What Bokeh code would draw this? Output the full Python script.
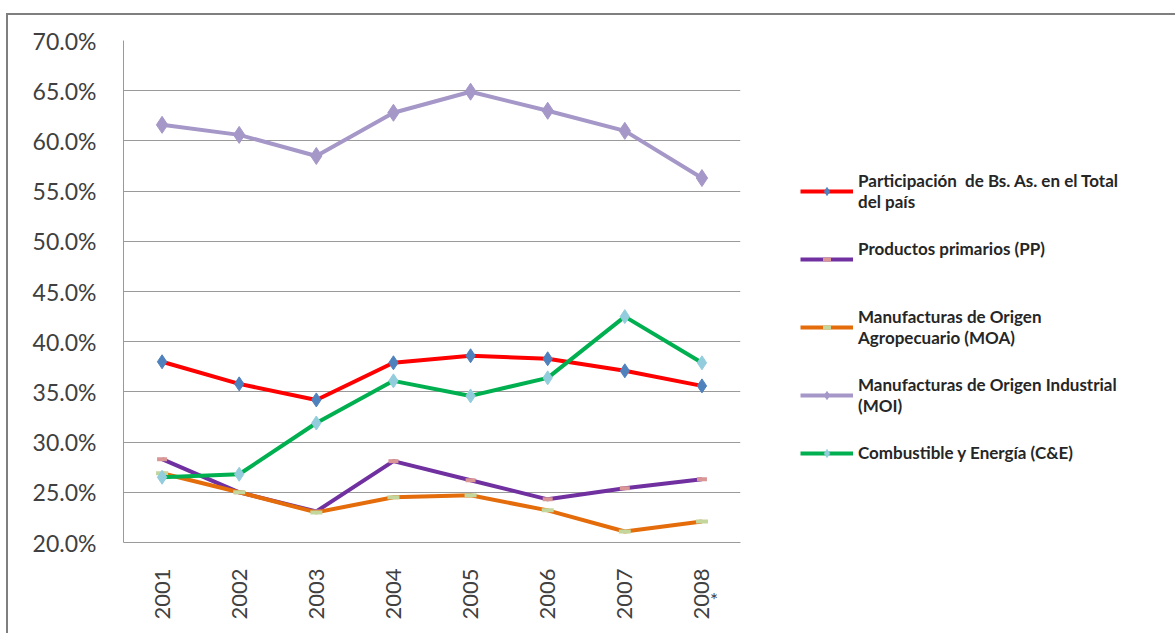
from bokeh.plotting import figure
from bokeh.models import (FactorRange, Range1d, FixedTicker, PrintfTickFormatter,
                          Legend, LegendItem, CategoricalAxis, CustomJSTickFormatter)
from bokeh.embed import file_html
from bokeh.resources import INLINE
from math import pi

years = ["2001", "2002", "2003", "2004", "2005", "2006", "2007", "2008"]
participacion = [38.0, 35.8, 34.2, 37.9, 38.6, 38.3, 37.1, 35.6]
pp = [28.3, 25.0, 23.1, 28.1, 26.2, 24.3, 25.4, 26.3]
moa = [26.9, 25.0, 23.0, 24.5, 24.7, 23.2, 21.1, 22.1]
moi = [61.6, 60.6, 58.5, 62.8, 64.9, 63.0, 61.0, 56.3]
ce = [26.5, 26.8, 31.9, 36.1, 34.6, 36.4, 42.5, 37.9]
y_ticks = [20, 25, 30, 35, 40, 45, 50, 55, 60, 65, 70]
note_year = "2008"
note_text = "*"

labels = ["Participación  de Bs. As. en el Total\ndel país",
          "Productos primarios (PP)\n\u00a0",
          "Manufacturas de Origen\nAgropecuario (MOA)",
          "Manufacturas de Origen Industrial\n(MOI)",
          "Combustible y Energía (C&E)"]

p = figure(x_range=FactorRange(*years), y_range=Range1d(20, 70),
           frame_width=617, frame_height=502,
           output_backend="svg", toolbar_location=None,
           min_border_left=115, min_border_top=25, min_border_right=0,
           min_border_bottom=91)
p.styles = {"border-top": "2px solid #7f7f7f", "border-left": "2px solid #7f7f7f",
            "margin-top": "13px", "margin-left": "6px"}
p.outline_line_color = None
p.background_fill_color = "white"
p.border_fill_color = "white"

FONT = "Lato"
TXT = "#404040"

# axes
p.yaxis.ticker = FixedTicker(ticks=y_ticks)
p.yaxis.formatter = PrintfTickFormatter(format="%.1f%%")
p.yaxis.major_tick_line_color = None
p.yaxis.minor_tick_line_color = None
p.yaxis.axis_line_color = "#9a9a9a"
p.yaxis.major_label_text_font = FONT
p.yaxis.major_label_text_font_size = "23px"
p.yaxis.major_label_text_color = TXT
p.yaxis.major_label_standoff = 21

p.xaxis.major_tick_line_color = None
p.xaxis.minor_tick_line_color = None
p.xaxis.axis_line_color = "#9a9a9a"
p.xaxis.major_label_orientation = pi / 2
p.xaxis.major_label_text_font = FONT
p.xaxis.major_label_text_font_size = "22px"
p.xaxis.major_label_text_color = TXT
p.xaxis.major_label_standoff = 20

# second line of the "2008 *" category label
note_axis = CategoricalAxis(
    formatter=CustomJSTickFormatter(
        args=dict(year=note_year, note="\u00a0" * 5 + note_text),
        code="return tick == year ? note : '\u00a0';"),
    axis_line_color=None, major_tick_line_color=None, minor_tick_line_color=None,
    major_label_standoff=-41, major_label_text_font=FONT,
    major_label_text_font_size="19px", major_label_text_color=TXT)
p.add_layout(note_axis, "below")

p.xgrid.grid_line_color = None
p.ygrid.ticker = FixedTicker(ticks=y_ticks)
p.ygrid.grid_line_color = "#9a9a9a"
p.ygrid.grid_line_width = 1

lw = 4
r1 = p.line(years, participacion, line_color="#FF0000", line_width=lw)
m1 = p.scatter(years, participacion, marker="diamond", size=14,
               fill_color="#4F81BD", line_color="#4F81BD")
r2 = p.line(years, pp, line_color="#7030A0", line_width=lw)
m2 = p.scatter(years, pp, marker="dash", size=10, line_color="#D99694", line_width=4)
r3 = p.line(years, moa, line_color="#E46C0A", line_width=lw)
m3 = p.scatter(years, moa, marker="dash", size=12, line_color="#C3D69B", line_width=4)
r4 = p.line(years, moi, line_color="#A597C7", line_width=lw)
m4 = p.scatter(years, moi, marker="diamond", size=17,
               fill_color="#A597C7", line_color="#A597C7")
r5 = p.line(years, ce, line_color="#00B050", line_width=lw)
m5 = p.scatter(years, ce, marker="diamond", size=14,
               fill_color="#93CDDD", line_color="#93CDDD")

items = [LegendItem(label=labels[0], renderers=[r1, m1]),
         LegendItem(label=labels[1], renderers=[r2, m2]),
         LegendItem(label=labels[2], renderers=[r3, m3]),
         LegendItem(label=labels[3], renderers=[r4, m4]),
         LegendItem(label=labels[4], renderers=[r5, m5])]
legend = Legend(items=items, location=(60, 79))
legend.border_line_color = None
legend.background_fill_alpha = 0
legend.padding = 0
legend.margin = 0
legend.glyph_width = 53
legend.glyph_height = 20
legend.label_height = 20
legend.label_standoff = 5
legend.spacing = 26
legend.label_text_font = FONT
legend.label_text_font_style = "bold"
legend.label_text_font_size = "17px"
legend.label_text_color = "#262626"
p.add_layout(legend, "right")

open("out.html", "w").write(file_html(p, INLINE))
